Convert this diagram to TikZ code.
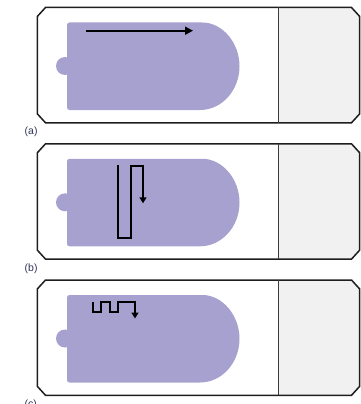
\documentclass[tikz,border=0pt]{standalone}
\usepackage{fontspec}
\setmainfont{Liberation Sans}
\usetikzlibrary{arrows.meta}
\definecolor{gel}{RGB}{167,161,208}
\definecolor{labelzone}{RGB}{241,241,241}
\definecolor{edge}{RGB}{30,30,30}
\definecolor{divider}{RGB}{60,60,60}
\definecolor{captxt}{RGB}{50,50,90}
\begin{document}
\begin{tikzpicture}[x=1pt,y=-1pt,
  slideedge/.style={draw=edge,line width=1.5pt,line join=miter},
  gelfill/.style={fill=gel},
  scanline/.style={draw=black,line width=1.8pt,line join=miter,
    -{Triangle[length=6pt,width=7pt]}},
  caption/.style={font=\fontsize{10.5}{12}\selectfont,text=captxt,anchor=west,inner sep=0pt}]
\useasboundingbox (0,0) rectangle (360,404);

% one slide: outline, label area, gel with well
\newcommand\drawslide[2]{%
  \begin{scope}[shift={(0,#1)}]
    \fill[labelzone] (278.3,0) -- (351.5,0) -- (359.7,9) -- (359.7,106.3)
      -- (351.5,115.3) -- (278.3,115.3) -- cycle;
    \draw[slideedge] (37.3,9) -- (45.5,0) -- (351.5,0) -- (359.7,9)
      -- (359.7,106.3) -- (351.5,115.3) -- (45.5,115.3) -- (37.3,106.3) -- cycle;
    \draw[draw=divider,line width=1.3pt] (278.3,0) -- (278.3,115.3);
    \fill[gelfill,rounded corners=2.5pt] (120,102.5) -- (67,102.5) -- (67,15)
      -- (200,15) [sharp corners] arc[start angle=90,end angle=-90,
      x radius=39.5pt,y radius=43.75pt] -- cycle;
    \fill[gelfill] (65,58.5) circle[radius=9pt];
    \node[caption] (#2) at (24.5,124.5) {(#2)};
  \end{scope}}

\drawslide{7.5}{a}
\drawslide{143.8}{b}
\drawslide{280}{c}

% (a) straight scan
\begin{scope}[shift={(0,7.5)}]
  \coordinate (a0) at (86,23.2);
  \coordinate (a1) at (193,23.2);
  \draw[scanline,-{Triangle[length=8pt,width=8pt]}] (a0) -- (a1);
\end{scope}

% (b) long serpentine scan
\begin{scope}[shift={(0,143.8)}]
  \coordinate (b0) at (118,21.5);
  \coordinate (b1) at (143,59.5);
  \draw[scanline] (b0) -- (118,94.3) -- (131,94.3) -- (131,22) -- (143,22) -- (b1);
\end{scope}

% (c) short raster scan
\begin{scope}[shift={(0,280)}]
  \coordinate (c0) at (93,22);
  \coordinate (c1) at (135,38.5);
  \draw[scanline] (c0) -- (93,32) -- (101,32) -- (101,22) -- (110,22)
    -- (110,32) -- (118,32) -- (118,22) -- (135,22) -- (c1);
\end{scope}
\end{tikzpicture}
\end{document}
